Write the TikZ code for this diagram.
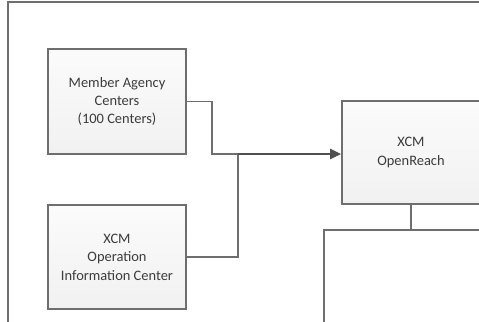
\documentclass[tikz,border=0pt]{standalone}
\usepackage{fontspec}
\setmainfont{Carlito}
\usetikzlibrary{arrows.meta}
\definecolor{edge}{HTML}{6E6E6E}
\definecolor{ink}{HTML}{3C3C3C}
\definecolor{flow}{HTML}{505050}
\tikzset{
  unit/.style={draw=edge, line width=1.6bp, top color=gray!3, bottom color=gray!11,
    minimum width=138bp, inner sep=0pt, align=center, text=ink,
    font=\fontsize{14.5}{18.5}\selectfont},
  wire/.style={draw=edge, line width=1.4bp},
  feed/.style={draw=flow, line width=2.4bp, -{Triangle[length=11bp,width=10bp]}},
}
\begin{document}
\begin{tikzpicture}[x=1bp, y=-1bp]
  \useasboundingbox (0,0) rectangle (479,321);
  % outer frame
  \coordinate (ftl) at (8,2);
  \coordinate (ftr) at (480,2);
  \coordinate (fbl) at (8,322);
  \draw[wire] (ftr) -- (ftl) -- (fbl);

  \node[unit, minimum height=105bp] (mac) at (117,101.5)
    {Member Agency\\Centers\\(100 Centers)};
  \node[unit, minimum height=104bp] (oic) at (117,257)
    {XCM\\Operation\\Information Center};
  \node[unit, minimum height=103bp] (xor) at (411,152.5)
    {XCM\\OpenReach};

  % joins feeding OpenReach
  \coordinate (j1) at (212,154);
  \coordinate (j2) at (238,154);
  \draw[wire] (mac.east) -| (j1) -- (j2);
  \draw[wire] (oic.east) -| (j2);
  \draw[feed] (j2) -- (j2 -| xor.west);

  % distribution below OpenReach
  \coordinate (bt) at (411,230);
  \coordinate (bl) at (324,230);
  \coordinate (br) at (480,230);
  \coordinate (bd) at (324,322);
  \draw[wire] (xor.south) -- (bt);
  \draw[wire] (br) -- (bl) -- (bd);
\end{tikzpicture}
\end{document}
